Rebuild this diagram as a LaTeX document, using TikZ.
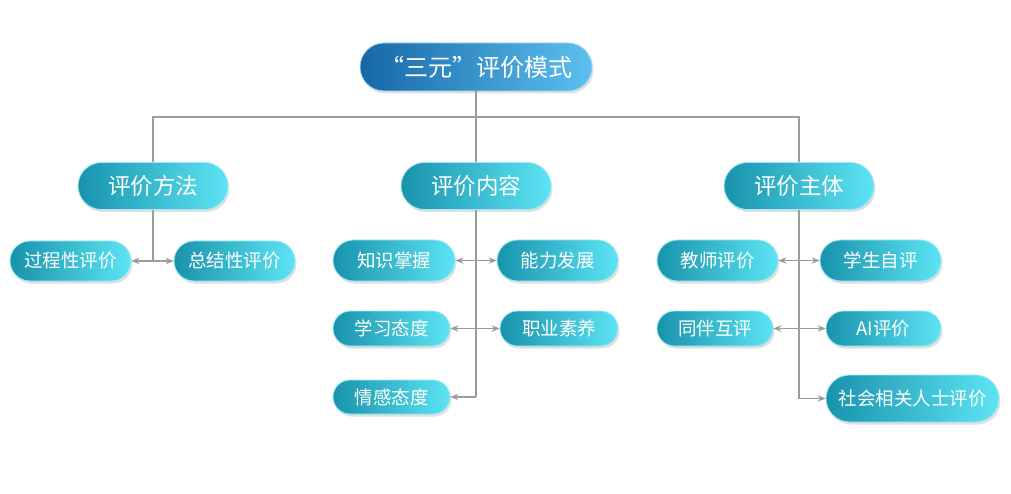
\documentclass[tikz,border=0pt]{standalone}
\usepackage{fontspec}
\newfontfamily\cjk{Noto Sans CJK SC}
\usetikzlibrary{shapes.misc,shadows,arrows.meta}
\definecolor{tdark}{HTML}{1893AC}
\definecolor{tlight}{HTML}{5DE4F4}
\definecolor{tedge}{HTML}{9BEAF4}
\definecolor{bdark}{HTML}{1767A6}
\definecolor{blight}{HTML}{5CC0F0}
\definecolor{bedge}{HTML}{9AD6F6}
\definecolor{conn}{HTML}{9C9C9C}
\tikzset{
  pill/.style={rounded rectangle, inner sep=0pt, text=white, font=\cjk,
    left color=tdark, right color=tlight, draw=tedge, line width=0.8pt,
    drop shadow={opacity=0.25, shadow xshift=1.5pt, shadow yshift=-2.5pt}},
  topbox/.style={pill, left color=bdark, right color=blight, draw=bedge,
    minimum width=232pt, minimum height=48pt, font=\cjk\fontsize{24}{26}\selectfont},
  midbox/.style={pill, minimum width=150pt, minimum height=47pt, font=\cjk\fontsize{22.5}{24}\selectfont},
  leafbox/.style={pill, font=\cjk\fontsize{18.5}{20}\selectfont},
  conline/.style={draw=conn, line width=1.2pt},
  conarrow/.style={conline, -{Stealth[length=8pt,width=6.5pt]}}
}
\begin{document}
\begin{tikzpicture}[x=1pt,y=-1pt]
\useasboundingbox (0,0) rectangle (1011,494);
\node[topbox] (top) at (476,67) {“三元”评价模式};
\node[midbox] (fa) at (153,186) {评价方法};
\node[midbox] (nr) at (476,186) {评价内容};
\node[midbox] (zt) at (799,186) {评价主体};
% left leaves
\node[leafbox, minimum width=121pt, minimum height=40pt] (gc) at (70.5,261) {过程性评价};
\node[leafbox, minimum width=121pt, minimum height=40pt] (zj) at (234.5,261) {总结性评价};
% middle leaves
\node[leafbox, minimum width=122pt, minimum height=41pt] (zs) at (394,260.5) {知识掌握};
\node[leafbox, minimum width=121pt, minimum height=41pt] (nl) at (557.5,260.5) {能力发展};
\node[leafbox, minimum width=117pt, minimum height=35pt] (xx) at (391.5,328.5) {学习态度};
\node[leafbox, minimum width=118pt, minimum height=35pt] (zy) at (559,328.5) {职业素养};
\node[leafbox, minimum width=117pt, minimum height=34pt] (qg) at (391.5,397) {情感态度};
% right leaves
\node[leafbox, minimum width=121pt, minimum height=41pt] (js) at (717.5,260.5) {教师评价};
\node[leafbox, minimum width=121pt, minimum height=41pt] (xs) at (880.5,260.5) {学生自评};
\node[leafbox, minimum width=116pt, minimum height=35pt] (tb) at (715,328.5) {同伴互评};
\node[leafbox, minimum width=115pt, minimum height=35pt] (ai) at (883.5,328.5) {AI评价};
\node[leafbox, minimum width=173pt, minimum height=47pt] (sh) at (912.5,398.5) {社会相关人士评价};
% connectors top
\coordinate (j) at (476,117);
\draw[conline] (top.south) -- (j);
\draw[conline] (fa.north) |- (j) -| (zt.north);
\draw[conline] (j) -- (nr.north);
% left
\coordinate (lj) at (fa.south |- gc.east);
\draw[conline] (fa.south) -- (lj);
\draw[conarrow] (lj) -- (gc.east);
\draw[conarrow] (lj) -- (zj.west);
% middle
\coordinate (m1) at (nr.south |- zs.east);
\coordinate (m2) at (nr.south |- xx.east);
\coordinate (m3) at (nr.south |- qg.east);
\draw[conline] (nr.south) -- (m3);
\draw[conarrow] (m1) -- (zs.east);
\draw[conarrow] (m1) -- (nl.west);
\draw[conarrow] (m2) -- (xx.east);
\draw[conarrow] (m2) -- (zy.west);
\draw[conarrow] (m3) -- (qg.east);
% right
\coordinate (r1) at (zt.south |- js.east);
\coordinate (r2) at (zt.south |- tb.east);
\coordinate (r3) at (zt.south |- sh.west);
\draw[conline] (zt.south) -- (r3);
\draw[conarrow] (r1) -- (js.east);
\draw[conarrow] (r1) -- (xs.west);
\draw[conarrow] (r2) -- (tb.east);
\draw[conarrow] (r2) -- (ai.west);
\draw[conarrow] (r3) -- (sh.west);
\end{tikzpicture}
\end{document}
